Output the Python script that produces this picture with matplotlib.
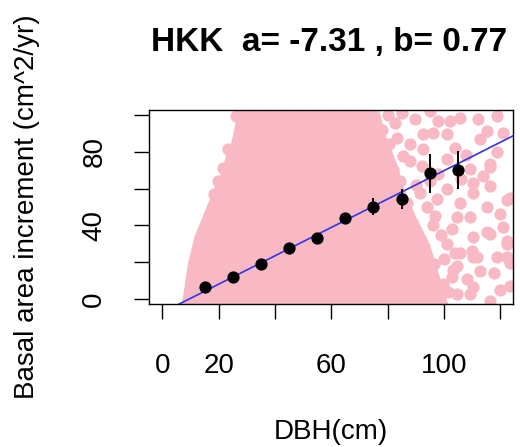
import matplotlib.pyplot as plt
import numpy as np

plt.rcParams['font.family'] = ['Liberation Sans', 'DejaVu Sans']

# fitted growth model: BAI = a + b * DBH
site = "HKK"
a_coef = -7.31
b_coef = 0.77

# binned means with error bars
bin_dbh = [15, 25, 35, 45, 55, 65, 75, 85, 95, 105]
bin_bai = [6.4, 12.1, 19.0, 27.6, 33.0, 43.9, 50.2, 54.3, 68.3, 70.1]
bin_err = [1.0, 1.2, 1.3, 1.6, 1.8, 2.2, 4.5, 5.5, 10.5, 10.2]

# outline of the solid part of the tree cloud
cloud_dbh = [6.0, 7.2, 9.0, 11.4, 16.1, 17.5, 19.1, 20.9, 22.6, 24.5, 25.5,
             26.2, 26.5, 76.0, 79.0, 83.0, 86.0, 90.0, 95.0, 98.0, 101.0, 102.0]
cloud_bai = [-5.0, 0.0, 19.0, 34.0, 51.6, 56.0, 63.0, 68.6, 77.7, 85.0, 92.0,
             98.0, 110.0, 110.0, 90.0, 75.0, 60.0, 45.0, 30.0, 15.0, 0.0, -5.0]

# individual trees outside the solid part
tree_dbh = [82.7, 89.8, 98.1, 102.2, 105.8, 118.9, 83.3, 92.7, 96.3, 101.1,
            115.3, 112.9, 92.7, 85.6, 88.0, 92.2, 101.1, 109.4, 116.5, 114.1,
            116.5, 110.5, 101.1, 91.6, 97.5, 105.8, 123.6,
            120.0, 121.2, 116.5, 110.5, 110.0, 118.9, 122.4, 112.9, 108.2,
            123.6, 116.5, 104.6, 110.5, 122.4, 104.6, 109.4, 115.3, 101.1,
            99.9, 104.6, 109.4, 110.5, 116.5, 122.4, 122.4, 115.3, 111.7,
            105.8, 117.7, 103.4, 110.5, 120.0, 123.6,
            94.0, 96.0, 99.0, 103.0, 100.0, 103.0, 97.0, 90.0, 95.0, 106.0,
            98.0, 104.0, 108.0, 88.0, 80.0, 85.0, 95.0, 112.0, 121.0, 119.0,
            23.2, 21.5, 19.8, 18.3, 26.2, 32.7, 78.0, 80.5, 82.0, 84.5,
            87.0, 88.5, 91.0, 93.0, 96.5, 99.0, 101.5, 104.0]
tree_bai = [95.8, 97.6, 96.7, 96.7, 98.5, 99.5, 87.7, 89.5, 90.4, 89.5,
            91.3, 86.8, 81.4, 77.7, 75.0, 72.3, 75.9, 70.5, 73.2, 66.8,
            61.4, 57.8, 59.6, 57.8, 54.2, 52.3, 55.0,
            46.2, 39.0, 35.3, 33.5, 26.3, 22.7, 22.7, 15.4, 10.9,
            7.2, -0.9, 18.1, 22.7, 31.7, 44.4, 44.4, 49.8, 29.9,
            8.2, 2.7, 2.7, 62.9, 71.9, 53.8, 30.0, 36.6, 23.0,
            24.8, 14.0, 15.8, 6.7, 4.9, 19.4,
            50.0, 40.0, 35.0, 38.0, 22.0, 12.0, 45.0, 62.0, 64.0, 65.0,
            68.0, 82.0, 78.0, 84.0, 100.0, 101.0, 102.0, 98.0, 90.0, 80.0,
            81.4, 71.0, 64.0, 57.0, 99.5, 99.5, 92.0, 84.0, 70.0, 64.0,
            52.0, 42.0, 33.0, 24.0, 19.0, 7.0, 4.0, 25.0]

x_ticks = [0, 20, 40, 60, 80, 100, 120]
x_labels = ['0', '20', '', '60', '', '100', '']
y_ticks = [0, 20, 40, 60, 80, 100]
y_labels = ['0', '', '40', '', '80', '']

pink = '#f8b8c4'

fig = plt.figure(figsize=(5.2, 4.47), dpi=100)
ax = fig.add_axes([0.2865, 0.3199, 0.70, 0.434])

ax.fill(cloud_dbh, cloud_bai, color=pink, lw=0, zorder=1)
ax.scatter(tree_dbh, tree_bai, s=78, color=pink, lw=0, zorder=1)

xs = np.array([-10, 130])
ax.plot(xs, a_coef + b_coef * xs, color='#3434e6', lw=1.2, zorder=2)

ax.errorbar(bin_dbh, bin_bai, yerr=bin_err, fmt='o', color='black',
            ms=7.8, elinewidth=1.4, capsize=0, zorder=3)

ax.set_xlim(-4.8, 124.6)
ax.set_ylim(-2.7, 102.7)
ax.set_xticks(x_ticks)
ax.set_xticklabels(x_labels)
ax.set_yticks(y_ticks)
ax.set_yticklabels(y_labels, rotation=90, va='center')
ax.tick_params(length=11, width=1, labelsize=20, colors='black')
ax.tick_params(axis='x', pad=24)
ax.tick_params(axis='y', pad=19)
for sp in ax.spines.values():
    sp.set_linewidth(1)

fig.text(0.633, 1 - 42 / 447, f"{site}  a= {a_coef} , b= {b_coef}",
         ha='center', va='center', fontsize=24, fontweight='bold')
fig.text(0.637, 1 - 432 / 447, "DBH(cm)", ha='center', va='center', fontsize=20)
fig.text(27 / 520, 1 - 207 / 447, "Basal area increment (cm^2/yr)",
         ha='center', va='center', rotation=90, fontsize=20)

fig.savefig('out.png', dpi=100)
